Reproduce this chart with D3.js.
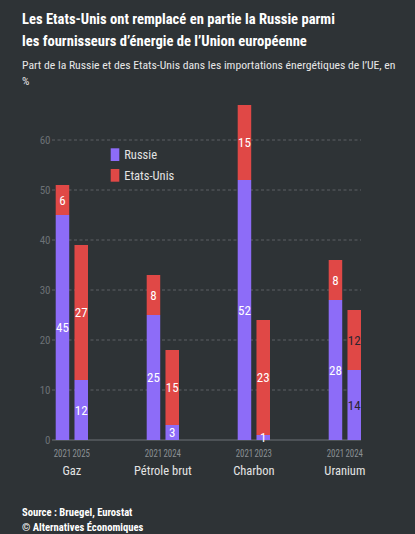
<!DOCTYPE html>
<html><head><meta charset="utf-8">
<script src="https://cdn.jsdelivr.net/npm/d3@7"></script>
<style>
html,body{margin:0;padding:0;background:#2e3336;}
svg{display:block;font-family:'Roboto Condensed','Roboto',sans-serif;}
</style></head>
<body><svg id="chart" width="415" height="534"></svg>
<script>
// ---- data ----
const categories = ["Gaz", "Pétrole brut", "Charbon", "Uranium"];
const years = [["2021", "2025"], ["2021", "2024"], ["2021", "2023"], ["2021", "2024"]];
const russie = [[45, 12], [25, 3], [52, 1], [28, 14]];
const etatsUnis = [[6, 27], [8, 15], [15, 23], [8, 12]];
const seriesNames = ["Russie", "Etats-Unis"];
const yTicks = [0, 10, 20, 30, 40, 50, 60];
const titleLines = ["Les Etats-Unis ont remplacé en partie la Russie parmi", "les fournisseurs d’énergie de l’Union européenne"];
const subtitleLines = ["Part de la Russie et des Etats-Unis dans les importations énergétiques de l’UE, en", "%"];
const sourceLines = ["Source : Bruegel, Eurostat", "© Alternatives Économiques"];

// ---- style ----
const colors = {"Russie": "#8d6cf8", "Etats-Unis": "#e04846"};
const svg = d3.select("#chart");

// titles
svg.selectAll("text.title").data(titleLines).join("text")
  .attr("class", "title").attr("x", 22).attr("y", (d, i) => 24 + i * 22)
  .attr("fill", "#ffffff").attr("font-size", 14.6).attr("font-weight", 700).text(d => d);
svg.selectAll("text.sub").data(subtitleLines).join("text")
  .attr("class", "sub").attr("x", 22).attr("y", (d, i) => 69 + i * 16)
  .attr("fill", "#e8e8e8").attr("font-size", 11.7).attr("font-weight", 400).text(d => d);
svg.selectAll("text.src").data(sourceLines).join("text")
  .attr("class", "src").attr("x", 22).attr("y", (d, i) => 516 + i * 14.5)
  .attr("fill", "#ffffff").attr("font-size", 10.6).attr("font-weight", 700).text(d => d);

// scales
const y = d3.scaleLinear().domain([0, 60]).range([440, 140]);
const x0 = d3.scaleBand().domain(categories).range([55.7, 361]).paddingInner(0.645).paddingOuter(0);
const x1 = d3.scaleBand().domain([0, 1]).range([0, x0.bandwidth()]).paddingInner(0.28);
const gridX0 = 52, gridX1 = 361;

// grid
const grid = svg.append("g");
grid.selectAll("line").data(yTicks.filter(t => t > 0)).join("line")
  .attr("x1", gridX0).attr("x2", gridX1)
  .attr("y1", d => y(d)).attr("y2", d => y(d))
  .attr("stroke", "#5c6165").attr("stroke-width", 1).attr("stroke-dasharray", "3,2.5");
svg.append("line").attr("x1", gridX0).attr("x2", gridX1).attr("y1", y(0)).attr("y2", y(0))
  .attr("stroke", "#6d7276").attr("stroke-width", 1);

// y axis labels
const yAxis = d3.axisLeft(y).tickValues(yTicks).tickSize(0).tickPadding(0);
const ya = svg.append("g").attr("transform", `translate(50.5,0)`).call(yAxis);
ya.select(".domain").remove();
ya.selectAll("text").attr("fill", "#6c7175").attr("font-size", 11).attr("font-family", "'Roboto Condensed',sans-serif");

// bars
const bars = [];
categories.forEach((c, ci) => {
  [0, 1].forEach(j => {
    const r = russie[ci][j], u = etatsUnis[ci][j];
    bars.push({cat: c, j, year: years[ci][j], segs: [
      {name: "Russie", v0: 0, v1: r, v: r},
      {name: "Etats-Unis", v0: r, v1: r + u, v: u}
    ]});
  });
});
const g = svg.append("g");
const bg = g.selectAll("g.bar").data(bars).join("g").attr("class", "bar")
  .attr("transform", d => `translate(${x0(d.cat) + x1(d.j)},0)`);
bg.selectAll("rect").data(d => d.segs).join("rect")
  .attr("x", 0).attr("width", x1.bandwidth())
  .attr("y", s => y(s.v1)).attr("height", s => y(s.v0) - y(s.v1))
  .attr("fill", s => colors[s.name]);
bg.selectAll("text").data(d => d.segs.map(s => ({...s, dark: d.cat === "Uranium" && d.j === 1}))).join("text")
  .attr("x", x1.bandwidth() / 2).attr("y", s => (y(s.v0) + y(s.v1)) / 2)
  .attr("dy", "0.36em").attr("text-anchor", "middle")
  .attr("fill", s => s.dark ? "#2a2530" : "#ffffff")
  .attr("font-size", 13).attr("font-weight", 400).text(s => s.v);

// x year labels
bg.append("text").attr("x", x1.bandwidth() / 2).attr("y", 457)
  .attr("text-anchor", "middle").attr("fill", "#8a8f93").attr("font-size", 10.5)
  .attr("textLength", 17.5).attr("lengthAdjust", "spacingAndGlyphs")
  .text(d => d.year);
// category labels
svg.selectAll("text.cat").data(categories).join("text").attr("class", "cat")
  .attr("x", d => x0(d) + x0.bandwidth() / 2).attr("y", 475)
  .attr("text-anchor", "middle").attr("fill", "#e4e4e4").attr("font-size", 12.5)
  .text(d => d);

// legend
const lg = svg.append("g").attr("transform", "translate(110.7,148.3)");
const li = lg.selectAll("g").data(seriesNames).join("g").attr("transform", (d, i) => `translate(0,${i * 20.7})`);
li.append("rect").attr("width", 8.6).attr("height", 12.7).attr("fill", d => colors[d]);
li.append("text").attr("x", 13.5).attr("y", 6.4).attr("dy", "0.36em")
  .attr("fill", "#e2e2e2").attr("font-size", 12.5).text(d => d);
</script></body></html>
